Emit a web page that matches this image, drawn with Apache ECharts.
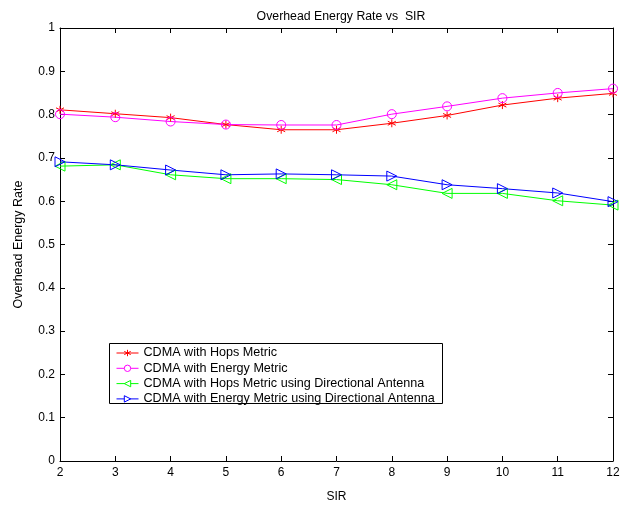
<!DOCTYPE html>
<html>
<head>
<meta charset="utf-8">
<script src="https://cdn.jsdelivr.net/npm/echarts@6/dist/echarts.min.js"></script>
<style>
html,body{margin:0;padding:0;background:#fff;}
#c{width:630px;height:508px;}
</style>
</head>
<body>
<div id="c"></div>
<script>
var sir = [2, 3, 4, 5, 6, 7, 8, 9, 10, 11, 12];
var hopsCdma = [0.811, 0.802, 0.793, 0.777, 0.765, 0.765, 0.780, 0.798, 0.822, 0.838, 0.849];
var energyCdma = [0.801, 0.794, 0.784, 0.777, 0.776, 0.776, 0.801, 0.819, 0.838, 0.850, 0.860];
var hopsDir = [0.681, 0.684, 0.661, 0.652, 0.652, 0.650, 0.638, 0.618, 0.618, 0.601, 0.591];
var energyDir = [0.691, 0.684, 0.672, 0.661, 0.663, 0.661, 0.658, 0.638, 0.629, 0.619, 0.599];
var seriesNames = [
  'CDMA with Hops Metric',
  'CDMA with Energy Metric',
  'CDMA with Hops Metric using Directional Antenna',
  'CDMA with Energy Metric using Directional Antenna'
];
var seriesColors = ['#ff0000', '#ff00ff', '#00ff00', '#0000ff'];

function pairs(ys){ return sir.map(function(x,i){ return [x, ys[i]]; }); }

var FONT = 'Liberation Sans, Arial, Helvetica, sans-serif';
var asterisk = 'path://M5,0L5,10M0.7,2.5L9.3,7.5M9.3,2.5L0.7,7.5';
var triLeft = 'path://M0,5L10,0L10,10Z';
var triRight = 'path://M10,5L0,0L0,10Z';
var symbols = [asterisk, 'circle', triLeft, triRight];
var sizes = [8, 9, 10, 10];

function mk(i, ys){
  var color = seriesColors[i];
  return {
    name: seriesNames[i], type: 'line', data: pairs(ys),
    symbol: symbols[i], symbolSize: sizes[i], showAllSymbol: true,
    color: color,
    lineStyle: {color: color, width: 1},
    itemStyle: {color: 'rgba(0,0,0,0)', borderColor: color, borderWidth: 1},
    emphasis: {disabled: true},
    animation: false
  };
}

var chart = echarts.init(document.getElementById('c'), null, {renderer: 'canvas'});
function axisCommon(){
  return {
    axisLine: {show: true, onZero: false, lineStyle: {color: '#000', width: 1}},
    axisTick: {show: true, inside: true, length: 5, lineStyle: {color: '#000'}},
    splitLine: {show: false}
  };
}
chart.setOption({
  backgroundColor: '#fff',
  animation: false,
  title: {
    text: 'Overhead Energy Rate vs  SIR',
    left: 336, top: 6, textAlign: 'center',
    textStyle: {fontFamily: FONT, fontSize: 12.3, fontWeight: 'normal', color: '#000'}
  },
  grid: {left: 60, right: 17, top: 28, bottom: 44, containLabel: false},
  legend: {
    data: seriesNames.map(function(n, i){
      return {
        name: n,
        itemStyle: {color: '#fff', borderColor: seriesColors[i], borderWidth: 1},
        lineStyle: {color: seriesColors[i], width: 1}
      };
    }),
    orient: 'vertical',
    left: 116, top: 346.5,
    itemWidth: 22, itemHeight: 8, itemGap: 2.3,
    textStyle: {fontFamily: FONT, fontSize: 12.6, lineHeight: 12, color: '#000'},
    padding: 0,
    selectedMode: false
  },
  graphic: [{
    type: 'rect', shape: {x: 109.5, y: 343.5, width: 333, height: 60},
    style: {fill: 'none', stroke: '#000', lineWidth: 1}, z: 100, silent: true
  }],
  xAxis: [
    Object.assign({
      type: 'value', min: 2, max: 12, interval: 1, position: 'bottom',
      name: 'SIR', nameLocation: 'middle', nameGap: 30,
      nameTextStyle: {fontFamily: FONT, fontSize: 12, color: '#000'},
      axisLabel: {fontFamily: FONT, fontSize: 12, color: '#000', margin: 6}
    }, axisCommon()),
    Object.assign({
      type: 'value', min: 2, max: 12, interval: 1, position: 'top',
      axisLabel: {show: false}
    }, axisCommon())
  ],
  yAxis: [
    Object.assign({
      type: 'value', min: 0, max: 1, interval: 0.1, position: 'left',
      name: 'Overhead Energy Rate', nameLocation: 'middle', nameGap: 35,
      nameTextStyle: {fontFamily: FONT, fontSize: 12.5, color: '#000'},
      axisLabel: {fontFamily: FONT, fontSize: 12, color: '#000', margin: 5,
        formatter: function(v){ return String(Math.round(v*10)/10); }}
    }, axisCommon()),
    Object.assign({
      type: 'value', min: 0, max: 1, interval: 0.1, position: 'right',
      axisLabel: {show: false}
    }, axisCommon())
  ],
  series: [
    mk(0, hopsCdma),
    mk(1, energyCdma),
    mk(2, hopsDir),
    mk(3, energyDir)
  ]
});
</script>
</body>
</html>
